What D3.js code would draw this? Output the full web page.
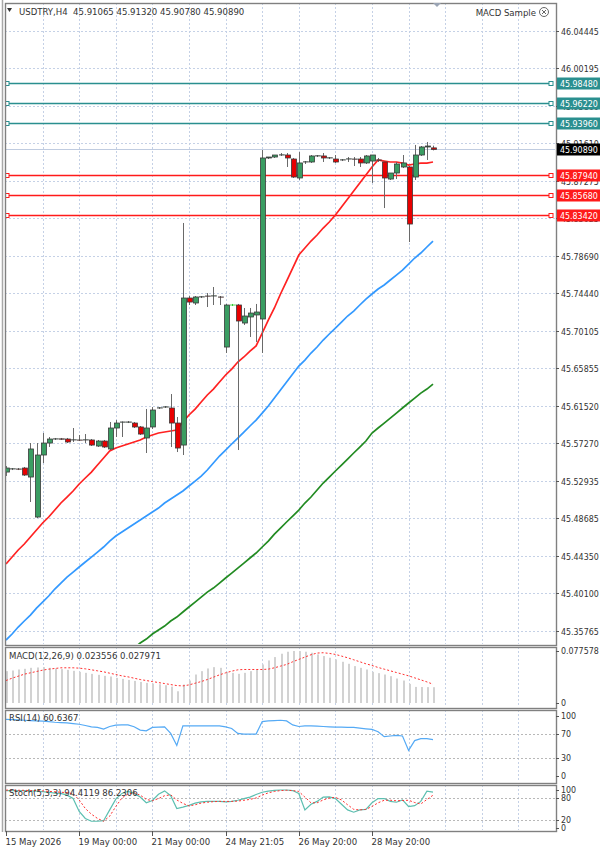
<!DOCTYPE html>
<html>
<head>
<meta charset="utf-8">
<script src="https://cdn.jsdelivr.net/npm/d3@7"></script>
<style>
  body { margin: 0; background: #fff; }
  svg { display: block; font-family: Tahoma, "DejaVu Sans Condensed", "DejaVu Sans", sans-serif; }
</style>
</head>
<body>
<svg id="chart" width="600" height="850"></svg>
<script>
// USDTRY H4 candles (bar 0 = oldest visible bar)
const openP = [
  45.5396, 45.5431, 45.5431, 45.5442, 45.5339, 45.4881, 45.5591, 45.5728, 45.5774, 45.5776,
  45.5774, 45.5763, 45.5763, 45.5763, 45.5763, 45.5694, 45.5751, 45.5660, 45.5900, 45.5967,
  45.5967, 45.5957, 45.5912, 45.5786, 45.5912, 45.6129, 45.6140, 45.6129, 45.5957, 45.5705,
  45.7388, 45.7331, 45.7400, 45.7411, 45.7411, 45.7400, 45.6827, 45.7308, 45.7308, 45.7102,
  45.7171, 45.7194, 45.7148, 45.8991, 45.9002, 45.9025, 45.9025, 45.8979, 45.8762, 45.8945,
  45.8945, 45.9014, 45.9014, 45.8991, 45.8979, 45.8968, 45.8979, 45.8979, 45.8979, 45.8934,
  45.8956, 45.8968, 45.8945, 45.8750, 45.8819, 45.8888, 45.8888, 45.8773, 45.9025, 45.9117,
  45.91065
];
const highP = [
  45.5465, 45.5442, 45.5442, 45.5454, 45.5728, 45.5728, 45.5843, 45.5797, 45.5786, 45.5786,
  45.5786, 45.5900, 45.5820, 45.5831, 45.5774, 45.5763, 45.5763, 45.5969, 45.5992, 45.5975,
  45.5980, 45.5969, 45.5923, 45.6118, 45.6140, 45.6140, 45.6152, 45.6289, 45.6026, 45.8247,
  45.7411, 45.7411, 45.7411, 45.7445, 45.7514, 45.7411, 45.7320, 45.7320, 45.7320, 45.7274,
  45.7274, 45.7320, 45.9082, 45.9002, 45.9025, 45.9048, 45.9048, 45.8991, 45.9059, 45.8956,
  45.9025, 45.9025, 45.9048, 45.9002, 45.9025, 45.8979, 45.9002, 45.9002, 45.9002, 45.9025,
  45.9025, 45.8991, 45.8945, 45.8819, 45.8945, 45.9025, 45.8899, 45.9140, 45.9128, 45.9174,
  45.91320
];
const lowP = [
  45.5351, 45.5419, 45.5419, 45.5351, 45.5053, 45.4870, 45.5499, 45.5683, 45.5763, 45.5763,
  45.5728, 45.5740, 45.5751, 45.5728, 45.5694, 45.5683, 45.5671, 45.5648, 45.5797, 45.5797,
  45.5957, 45.5900, 45.5820, 45.5614, 45.5889, 45.6118, 45.6129, 45.5683, 45.5625, 45.5591,
  45.7308, 45.7308, 45.7388, 45.7285, 45.7308, 45.7308, 45.6759, 45.7297, 45.5648, 45.7079,
  45.6942, 45.6885, 45.6759, 45.8979, 45.8991, 45.9014, 45.8888, 45.8762, 45.8739, 45.8922,
  45.8934, 45.9002, 45.8945, 45.8979, 45.8934, 45.8956, 45.8945, 45.8899, 45.8888, 45.8922,
  45.8705, 45.8945, 45.8418, 45.8739, 45.8750, 45.8876, 45.8029, 45.8739, 45.9014, 45.8968,
  45.90780
];
const closeP = [
  45.5442, 45.5433, 45.5429, 45.5362, 45.5660, 45.5591, 45.5728, 45.5774, 45.5776, 45.5772,
  45.5740, 45.5765, 45.5761, 45.5765, 45.5705, 45.5751, 45.5683, 45.5900, 45.5957, 45.5969,
  45.5969, 45.5912, 45.5831, 45.5900, 45.6106, 45.6131, 45.6142, 45.5957, 45.5671, 45.7388,
  45.7342, 45.7400, 45.7402, 45.7409, 45.7413, 45.7398, 45.7308, 45.7308, 45.7125, 45.7182,
  45.7216, 45.7228, 45.8991, 45.9002, 45.9025, 45.9027, 45.8991, 45.8773, 45.8934, 45.8947,
  45.9014, 45.9016, 45.8991, 45.8993, 45.8945, 45.8970, 45.8981, 45.8977, 45.8934, 45.9014,
  45.9025, 45.8966, 45.8762, 45.8819, 45.8922, 45.8934, 45.8235, 45.9025, 45.9117, 45.9128,
  45.90890
];

// moving averages
const maRed = [
  45.4343, 45.4423, 45.4504, 45.4572, 45.4652, 45.4732, 45.4813, 45.4881, 45.4961, 45.5042,
  45.5110, 45.5179, 45.5259, 45.5328, 45.5396, 45.5477, 45.5557, 45.5637, 45.5671, 45.5694,
  45.5717, 45.5740, 45.5763, 45.5797, 45.5820, 45.5843, 45.5854, 45.5866, 45.5877, 45.5969,
  45.6049, 45.6117, 45.6198, 45.6278, 45.6346, 45.6426, 45.6507, 45.6575, 45.6655, 45.6713,
  45.6781, 45.6839, 45.6987, 45.7136, 45.7274, 45.7434, 45.7582, 45.7731, 45.7880, 45.7960,
  45.8040, 45.8109, 45.8189, 45.8258, 45.8338, 45.8430, 45.8521, 45.8613, 45.8704, 45.8796,
  45.8888, 45.8968, 45.8956, 45.8945, 45.8945, 45.8933, 45.8910, 45.8922, 45.8933, 45.8933,
  45.8945
];
const maBlue = [
  45.3473, 45.3542, 45.3622, 45.3691, 45.3759, 45.3839, 45.3908, 45.3977, 45.4057, 45.4125,
  45.4194, 45.4251, 45.4309, 45.4366, 45.4423, 45.4480, 45.4538, 45.4606, 45.4664, 45.4709,
  45.4755, 45.4801, 45.4847, 45.4892, 45.4938, 45.4984, 45.5041, 45.5087, 45.5133, 45.5179,
  45.5236, 45.5293, 45.5350, 45.5419, 45.5499, 45.5579, 45.5648, 45.5717, 45.5785, 45.5854,
  45.5923, 45.5991, 45.6071, 45.6152, 45.6243, 45.6335, 45.6426, 45.6518, 45.6609, 45.6678,
  45.6758, 45.6827, 45.6907, 45.6976, 45.7044, 45.7113, 45.7182, 45.7239, 45.7308, 45.7376,
  45.7434, 45.7491, 45.7537, 45.7594, 45.7651, 45.7708, 45.7777, 45.7846, 45.7903, 45.7972,
  45.8040
];
const maGreen = [
  null, null, null, null, null, null, null, null, null, null,
  null, null, null, null, null, null, null, null, null, null,
  null, 45.3381, 45.3439, 45.3484, 45.3542, 45.3587, 45.3633, 45.3691, 45.3736, 45.3794,
  45.3851, 45.3908, 45.3965, 45.4022, 45.4068, 45.4125, 45.4183, 45.4240, 45.4297, 45.4354,
  45.4412, 45.4469, 45.4538, 45.4606, 45.4686, 45.4755, 45.4824, 45.4892, 45.4961, 45.5041,
  45.5110, 45.5190, 45.5270, 45.5339, 45.5408, 45.5476, 45.5545, 45.5614, 45.5682, 45.5751,
  45.5843, 45.5900, 45.5957, 45.6014, 45.6071, 45.6129, 45.6186, 45.6243, 45.6300, 45.6346,
  45.6403
];

const macdHist = [
  0.0475, 0.0485, 0.0500, 0.0510, 0.0525, 0.0530, 0.0535, 0.0525, 0.0515, 0.0505,
  0.0495, 0.0480, 0.0465, 0.0450, 0.0435, 0.0420, 0.0405, 0.0395, 0.0375, 0.0360,
  0.0345, 0.0330, 0.0315, 0.0300, 0.0290, 0.0280, 0.0265, 0.0245, 0.0175, 0.0275,
  0.0335, 0.0425, 0.0475, 0.0515, 0.0535, 0.0525, 0.0465, 0.0450, 0.0435, 0.0450,
  0.0475, 0.0500, 0.0575, 0.0635, 0.0685, 0.0735, 0.0765, 0.077578, 0.0774, 0.0765,
  0.0750, 0.0725, 0.0700, 0.0675, 0.0650, 0.0615, 0.0585, 0.0550, 0.0525, 0.0500,
  0.0465, 0.0445, 0.0425, 0.0400, 0.0365, 0.0335, 0.0285, 0.0240, 0.0238, 0.0237,
  0.023556
];
const macdSignal = [
  0.0335, 0.0370, 0.0400, 0.0430, 0.0450, 0.0470, 0.0490, 0.0505, 0.0515, 0.0525,
  0.0525, 0.0525, 0.0520, 0.0510, 0.0495, 0.0480, 0.0465, 0.0445, 0.0425, 0.0405,
  0.0390, 0.0370, 0.0350, 0.0335, 0.0320, 0.0305, 0.0290, 0.0275, 0.0260, 0.0255,
  0.0270, 0.0295, 0.0320, 0.0350, 0.0385, 0.0420, 0.0450, 0.0475, 0.0495, 0.0500,
  0.0500, 0.0500, 0.0500, 0.0505, 0.0525, 0.0550, 0.0575, 0.0615, 0.0650, 0.0685,
  0.0720, 0.0745, 0.0750, 0.0740, 0.0725, 0.0700, 0.0675, 0.0645, 0.0615, 0.0585,
  0.0560, 0.0530, 0.0505, 0.0480, 0.0455, 0.0430, 0.0405, 0.0375, 0.0345, 0.0315,
  0.027971
];
const rsi = [
  94.5, 94.0, 93.4, 92.9, 92.3, 91.8, 91.3, 90.7, 89.6, 89.1,
  88.5, 87.4, 86.3, 84.2, 82.0, 80.9, 78.1, 82.5, 84.7, 85.2,
  85.2, 82.0, 76.5, 75.4, 80.9, 81.4, 82.0, 71.0, 50.8, 83.6,
  83.6, 83.6, 83.6, 83.6, 83.6, 83.6, 82.0, 79.2, 71.0, 69.9,
  69.9, 69.9, 90.7, 91.8, 92.3, 92.9, 91.8, 85.2, 82.5, 83.6,
  83.6, 83.1, 82.5, 82.0, 81.4, 81.4, 80.9, 80.9, 79.8, 78.7,
  77.6, 73.8, 65.6, 66.7, 67.8, 66.7, 42.6, 59.0, 62.3, 62.3,
  60.6367
];
const stochMain = [
  98.5, 98.5, 98.5, 98.5, 97.7, 97.0, 95.5, 94.0, 91.7, 91.0,
  86.5, 77.5, 43.7, 25.2, 17.7, 17.7, 19.2, 47.6, 76.0, 91.0,
  96.2, 91.0, 81.3, 66.3, 72.3, 88.7, 97.7, 85.0, 51.4, 55.1,
  59.6, 65.6, 68.6, 70.0, 70.0, 70.0, 68.6, 70.0, 73.0, 77.5,
  81.3, 88.0, 94.0, 97.0, 99.2, 100.0, 100.0, 98.5, 91.0, 47.6,
  62.6, 70.0, 81.3, 82.0, 77.5, 62.6, 47.6, 41.6, 47.6, 49.1,
  66.3, 77.5, 77.5, 70.0, 67.8, 73.8, 56.6, 58.8, 70.0, 97.0,
  94.4119
];
const stochSignal = [
  99.6, 99.6, 99.2, 99.2, 98.5, 98.5, 97.7, 96.2, 95.5, 94.0,
  93.2, 90.2, 73.8, 51.4, 36.4, 25.2, 17.7, 31.2, 56.6, 79.0,
  89.5, 92.5, 86.5, 75.3, 71.6, 77.5, 85.0, 87.2, 73.8, 64.8,
  58.1, 61.1, 65.6, 67.8, 69.3, 70.0, 70.0, 70.0, 70.8, 73.0,
  75.3, 79.0, 86.5, 92.5, 96.2, 98.5, 99.2, 98.5, 96.2, 81.3,
  66.3, 66.3, 73.8, 79.0, 80.5, 73.8, 61.1, 49.1, 47.6, 49.1,
  56.6, 66.3, 73.0, 73.0, 71.6, 72.3, 73.0, 67.0, 63.3, 75.0,
  86.2306
];

// price axis ticks and chart objects
const priceTicks = [46.04445, 46.00195, 45.95860, 45.91610, 45.87275, 45.83025, 45.78690, 45.74440,
  45.70105, 45.65855, 45.61520, 45.57270, 45.52935, 45.48685, 45.44350, 45.40100, 45.35765];
const levelsTeal = [45.98480, 45.96220, 45.93960];
const levelsRed = [45.87940, 45.85680, 45.83420];
const lastPrice = 45.90890;
const timeTickBars = [0, 12, 24, 36, 48, 60];
const timeTickLabels = ['15 May 2026', '19 May 00:00', '21 May 00:00', '24 May 21:05', '26 May 20:00', '28 May 20:00'];
const gridBars = d3.range(6, 90, 6);

const svg = d3.select('#chart');
const plotL = 5, plotR = 556;
const panels = {
  main: { top: 3, bottom: 645 },
  macd: { top: 647, bottom: 708 },
  rsi: { top: 710, bottom: 783 },
  stoch: { top: 785, bottom: 831 }
};

const x = d3.scaleLinear().domain([0, 90]).range([6, 555]);
const yMain = d3.scaleLinear().domain([45.35765, 46.04445]).range([631, 31]);
const yMacd = d3.scaleLinear().domain([0, 0.077578]).range([703, 651]);
const yRsi = d3.scaleLinear().domain([0, 100]).range([776, 716]);
const yStoch = d3.scaleLinear().domain([0, 100]).range([828, 790]);

const GRID = '#c5d1e6';
const TXT = '#333';
const AXIS_FS = 8.8;

// clip paths
const defs = svg.append('defs');
Object.entries(panels).forEach(([k, p]) => {
  defs.append('clipPath').attr('id', 'clip-' + k)
    .append('rect')
    .attr('x', plotL + 1).attr('y', p.top + 1)
    .attr('width', plotR - plotL - 2).attr('height', p.bottom - p.top - 2);
});

function panelGroup(k) {
  return svg.append('g').attr('clip-path', `url(#clip-${k})`);
}

// vertical grid in every panel
Object.entries(panels).forEach(([k, p]) => {
  panelGroup(k).selectAll('line.vg')
    .data(gridBars)
    .join('line')
    .attr('x1', d => Math.round(x(d)) + 0.5).attr('x2', d => Math.round(x(d)) + 0.5)
    .attr('y1', p.top).attr('y2', p.bottom)
    .attr('stroke', GRID).attr('stroke-dasharray', '2,2');
});

// ---------- main panel ----------
const gMain = panelGroup('main');

gMain.selectAll('line.hg')
  .data(priceTicks)
  .join('line')
  .attr('x1', plotL).attr('x2', plotR)
  .attr('y1', d => Math.round(yMain(d)) + 0.5).attr('y2', d => Math.round(yMain(d)) + 0.5)
  .attr('stroke', GRID).attr('stroke-dasharray', '2,2');

// last price line
gMain.append('line')
  .attr('x1', plotL).attr('x2', plotR)
  .attr('y1', Math.round(yMain(lastPrice)) + 0.5).attr('y2', Math.round(yMain(lastPrice)) + 0.5)
  .attr('stroke', '#c0cce0');

// horizontal levels
function drawLevels(levels, color) {
  levels.forEach(v => {
    const yy = Math.round(yMain(v)) + 0.5;
    gMain.append('line')
      .attr('x1', plotL).attr('x2', 551)
      .attr('y1', yy).attr('y2', yy)
      .attr('stroke', color).attr('stroke-width', 1.6);
    [7, 551].forEach(cx => {
      gMain.append('rect')
        .attr('x', cx - 2).attr('y', yy - 2).attr('width', 4).attr('height', 4)
        .attr('fill', '#fff').attr('stroke', color).attr('stroke-width', 1);
    });
  });
}
drawLevels(levelsTeal, '#2a8f8f');
drawLevels(levelsRed, '#ff1a1a');

// moving averages
const maLine = d3.line()
  .defined(d => d.v != null)
  .x(d => x(d.i)).y(d => yMain(d.v));
[[maGreen, '#228b22'], [maBlue, '#3399ff'], [maRed, '#ff2222']].forEach(([arr, col]) => {
  gMain.append('path')
    .datum(arr.map((v, i) => ({ i, v })))
    .attr('d', maLine)
    .attr('fill', 'none').attr('stroke', col).attr('stroke-width', 1.7);
});

// candles
const candles = openP.map((o, i) => ({ i, o, h: highP[i], l: lowP[i], c: closeP[i] }));
const cg = gMain.append('g');
cg.selectAll('line.wick')
  .data(candles)
  .join('line')
  .attr('x1', d => Math.round(x(d.i)) + 0.5).attr('x2', d => Math.round(x(d.i)) + 0.5)
  .attr('y1', d => yMain(d.h)).attr('y2', d => yMain(d.l))
  .attr('stroke', d => d.o === d.c ? '#32cd32' : '#6a6a6a').attr('stroke-width', 1);
cg.selectAll('rect.body')
  .data(candles)
  .join('rect')
  .attr('x', d => Math.round(x(d.i)) - 1.5)
  .attr('width', 5)
  .attr('y', d => yMain(Math.max(d.o, d.c)))
  .attr('height', d => Math.max(0.01, Math.abs(yMain(d.o) - yMain(d.c))))
  .attr('fill', d => d.c > d.o ? '#3a9d62' : d.c < d.o ? '#e80000' : '#32cd32')
  .attr('stroke', d => d.o === d.c ? '#32cd32' : '#3a3a3a')
  .attr('stroke-width', 0.8);

// ---------- MACD ----------
const gMacd = panelGroup('macd');
gMacd.selectAll('rect.h')
  .data(macdHist)
  .join('rect')
  .attr('x', (d, i) => Math.round(x(i)))
  .attr('width', 2)
  .attr('y', d => yMacd(d))
  .attr('height', d => yMacd(0) - yMacd(d))
  .attr('fill', '#d2d2d2');
gMacd.append('path')
  .datum(macdSignal)
  .attr('d', d3.line().x((d, i) => x(i)).y(d => yMacd(d)))
  .attr('fill', 'none').attr('stroke', '#ff3030').attr('stroke-width', 1)
  .attr('stroke-dasharray', '2,2');

// ---------- RSI ----------
const gRsi = panelGroup('rsi');
[70, 30].forEach(v => {
  gRsi.append('line')
    .attr('x1', plotL).attr('x2', plotR)
    .attr('y1', Math.round(yRsi(v)) + 0.5).attr('y2', Math.round(yRsi(v)) + 0.5)
    .attr('stroke', '#b8b8b8').attr('stroke-dasharray', '2,2');
});
gRsi.append('path')
  .datum(rsi)
  .attr('d', d3.line().x((d, i) => x(i)).y(d => yRsi(d)))
  .attr('fill', 'none').attr('stroke', '#55aaf5').attr('stroke-width', 1.2);

// ---------- Stochastic ----------
const gSto = panelGroup('stoch');
[80, 20].forEach(v => {
  gSto.append('line')
    .attr('x1', plotL).attr('x2', plotR)
    .attr('y1', Math.round(yStoch(v)) + 0.5).attr('y2', Math.round(yStoch(v)) + 0.5)
    .attr('stroke', '#b8b8b8').attr('stroke-dasharray', '2,2');
});
gSto.append('path')
  .datum(stochMain)
  .attr('d', d3.line().x((d, i) => x(i)).y(d => yStoch(d)))
  .attr('fill', 'none').attr('stroke', '#5cbfb0').attr('stroke-width', 1.2);
gSto.append('path')
  .datum(stochSignal)
  .attr('d', d3.line().x((d, i) => x(i)).y(d => yStoch(d)))
  .attr('fill', 'none').attr('stroke', '#ff3030').attr('stroke-width', 1)
  .attr('stroke-dasharray', '2,2');

// ---------- frames ----------
Object.values(panels).forEach(p => {
  svg.append('rect')
    .attr('x', plotL + 0.5).attr('y', p.top + 0.5)
    .attr('width', plotR - plotL).attr('height', p.bottom - p.top)
    .attr('fill', 'none').attr('stroke', '#808080').attr('stroke-width', 1.4);
});
svg.append('line')
  .attr('x1', 2.5).attr('x2', 2.5).attr('y1', 0).attr('y2', 832)
  .attr('stroke', '#a8a8a8').attr('stroke-width', 1.5);

// ---------- price axis ----------
const axisG = svg.append('g').attr('font-size', AXIS_FS).attr('fill', TXT);
priceTicks.forEach(v => {
  const yy = Math.round(yMain(v)) + 0.5;
  axisG.append('line').attr('x1', plotR).attr('x2', plotR + 3).attr('y1', yy).attr('y2', yy).attr('stroke', '#555');
  axisG.append('text').attr('x', plotR + 5).attr('y', yy).attr('dy', '0.35em').text(v.toFixed(5));
});

function priceBox(v, bg) {
  const yy = Math.round(yMain(v)) + 0.5;
  axisG.append('rect')
    .attr('x', plotR + 1).attr('y', yy - 6).attr('width', 44).attr('height', 12)
    .attr('fill', bg);
  axisG.append('text')
    .attr('x', plotR + 4).attr('y', yy).attr('dy', '0.35em')
    .attr('fill', '#fff').text(v.toFixed(5));
}
levelsTeal.forEach(v => priceBox(v, '#2a8f8f'));
levelsRed.forEach(v => priceBox(v, '#ff1a1a'));
priceBox(lastPrice, '#000');

// sub-window scales
function sideLabel(yy, txt) {
  axisG.append('line').attr('x1', plotR).attr('x2', plotR + 3)
    .attr('y1', Math.round(yy) + 0.5).attr('y2', Math.round(yy) + 0.5).attr('stroke', '#555');
  axisG.append('text').attr('x', plotR + 5).attr('y', yy).attr('dy', '0.35em').text(txt);
}
sideLabel(yMacd(0.077578), '0.077578');
sideLabel(yMacd(0), '0');
[100, 70, 30, 0].forEach(v => sideLabel(yRsi(v), String(v)));
[100, 80, 20, 0].forEach(v => sideLabel(yStoch(v), String(v)));

// ---------- time axis ----------
const timeG = svg.append('g').attr('font-size', 9.5).attr('fill', TXT);
timeTickBars.forEach((b, k) => {
  const xx = Math.round(x(b)) + 0.5;
  timeG.append('line').attr('x1', xx).attr('x2', xx).attr('y1', 831).attr('y2', 836).attr('stroke', '#555');
  timeG.append('text').attr('x', xx - 1).attr('y', 845).text(timeTickLabels[k]);
});

// ---------- captions ----------
const cap = svg.append('g').attr('font-size', 9.5).attr('fill', TXT);
cap.append('path').attr('d', 'M7,8 L12,8 L9.5,12 Z').attr('fill', '#333');
cap.append('text').attr('x', 19).attr('y', 15)
  .text('USDTRY,H4  45.91065 45.91320 45.90780 45.90890')
  .attr('xml:space', 'preserve').style('white-space', 'pre');
cap.append('text').attr('x', 536).attr('y', 16).attr('text-anchor', 'end').text('MACD Sample');
cap.append('circle').attr('cx', 544).attr('cy', 12).attr('r', 4.5)
  .attr('fill', 'none').attr('stroke', '#666');
cap.append('path').attr('d', 'M542,10 L546,14 M546,10 L542,14').attr('stroke', '#666');
cap.append('path').attr('d', 'M433,3 L441,3 L437,7 Z').attr('fill', '#9aa4b4');
cap.append('text').attr('x', 9).attr('y', 659).text('MACD(12,26,9) 0.023556 0.027971');
cap.append('text').attr('x', 9).attr('y', 721).text('RSI(14) 60.6367');
cap.append('text').attr('x', 9).attr('y', 796).text('Stoch(5,3,3) 94.4119 86.2306');
</script>
</body>
</html>
